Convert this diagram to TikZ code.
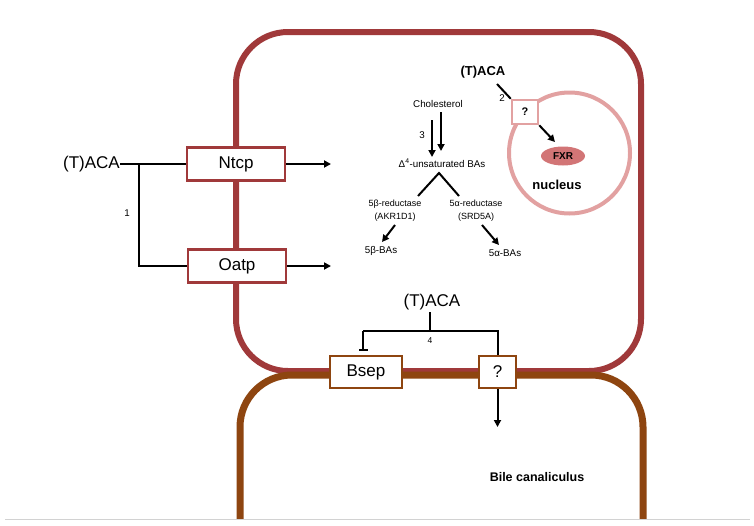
\documentclass[tikz,border=0pt]{standalone}
\usepackage{fontspec}
\setmainfont{Liberation Sans}
\usetikzlibrary{arrows.meta,shapes.geometric}
\definecolor{cellred}{HTML}{A0393A}
\definecolor{cellbrown}{HTML}{8E4510}
\definecolor{nucpink}{HTML}{E2A1A1}
\definecolor{fxrfill}{HTML}{D27576}
\begin{document}
\begin{tikzpicture}[x=1pt,y=-1pt,
  tbox/.style={draw=cellred,line width=2.5pt,fill=white,minimum width=98pt,minimum height=33pt,inner sep=0pt,font=\fontsize{17}{17}\selectfont},
  bbox/.style={draw=cellbrown,line width=2.5pt,fill=white,minimum height=32pt,inner sep=0pt,font=\fontsize{17}{17}\selectfont},
  lbl/.style={font=\fontsize{9.8}{11}\selectfont,inner sep=0pt,align=center},
  arr/.style={line width=2pt,-{Triangle[length=7pt,width=7pt]}},
  ln/.style={line width=2pt},
]
\useasboundingbox (0,0) rectangle (754,525);
% cells
\draw[cellred,line width=6pt,rounded corners=52pt] (236,32) rectangle (641,371);
\draw[cellbrown,line width=7pt,rounded corners=52pt] (240,519) -- (240,375) -- (643,375) -- (643,519);
\draw[gray!35,line width=1.5pt] (5,519.5) -- (750,519.5);

% left transporters
\node[tbox] (ntcp) at (236,164) {Ntcp};
\node[tbox] (oatp) at (237,266) {Oatp};
\node[anchor=east,inner sep=0pt,font=\fontsize{17}{17}\selectfont] (taca1) at (120,164) {(T)ACA};
\coordinate (br1) at (139,164);
\coordinate (out1) at (331,164);
\coordinate (out2) at (331,266);
\draw[ln] (taca1.east) -- (ntcp.west);
\draw[ln] (br1) |- (oatp.west);
\draw[arr] (ntcp.east) -- (out1);
\draw[arr] (oatp.east) -- (out2);
\node[lbl] (l1) at (127,213) {1};

% cholesterol pathway
\node[lbl] (chol) at (438,104) {Cholesterol};
\node[lbl] (delta) at (442,163) {Δ\textsuperscript{4}-unsaturated BAs};
\coordinate (a1s) at (432,120);
\coordinate (a1e) at (432,157);
\coordinate (a2s) at (441,112);
\coordinate (a2e) at (441,151);
\draw[arr] (a1s) -- (a1e);
\draw[arr] (a2s) -- (a2e);
\node[lbl] (l3) at (422,135) {3};
\coordinate (apex) at (439,173);
\coordinate (legl) at (418,196);
\coordinate (legr) at (459,196);
\draw[line width=2pt] (legl) -- (apex) -- (legr);
\node[lbl,font=\fontsize{9}{11}\selectfont] (red5b) at (395,211) {5β-reductase\\[2pt](AKR1D1)};
\node[lbl,font=\fontsize{9}{11}\selectfont] (red5a) at (476,211) {5α-reductase\\[2pt](SRD5A)};
\node[lbl] (ba5b) at (381,251) {5β-BAs};
\node[lbl] (ba5a) at (505,253) {5α-BAs};
\coordinate (b1s) at (395,225);
\coordinate (b1e) at (382,242);
\coordinate (b2s) at (482,225);
\coordinate (b2e) at (499,245);
\draw[arr] (b1s) -- (b1e);
\draw[arr] (b2s) -- (b2e);

% nucleus
\draw[nucpink,line width=4pt] (569.5,153) circle (60.5pt);
\node[draw=nucpink,line width=2.5pt,fill=white,minimum width=26pt,minimum height=24pt,inner sep=0pt,font=\bfseries\fontsize{11}{11}\selectfont] (q1) at (525,112) {?};
\node[ellipse,fill=fxrfill,minimum width=44pt,minimum height=19pt,inner sep=0pt,font=\bfseries\fontsize{10}{10}\selectfont] (fxr) at (563,156) {FXR};
\node[inner sep=0pt,font=\bfseries\fontsize{13}{13}\selectfont] (nuc) at (557,185) {nucleus};
\node[inner sep=0pt,font=\bfseries\fontsize{13}{13}\selectfont] (taca2) at (483,72) {(T)ACA};
\coordinate (c2) at (497,84);
\coordinate (fxrtip) at (555,142);
\draw[ln] (c2) -- (q1.north west);
\node[lbl] (l2) at (502,98) {2};
\draw[arr] (q1.south east) -- (fxrtip);

% canalicular transporters
\node[bbox,minimum width=72pt] (bsep) at (366,372) {Bsep};
\node[bbox,minimum width=37pt] (q2) at (497.5,372) {?};
\node[inner sep=0pt,font=\fontsize{17}{17}\selectfont] (taca3) at (432,302) {(T)ACA};
\coordinate (j4) at (430,331);
\coordinate (j4l) at (363,331);
\coordinate (j4r) at (497.5,331);
\coordinate (tee) at (363,351);
\coordinate (top4) at (430,312);
\draw[ln] (top4) -- (j4);
\draw[ln] (j4l) -- (j4r) -- (q2.north);
\draw[ln,-{Bar[width=9pt]}] (j4l) -- (tee);
\node[lbl,font=\fontsize{8.5}{8.5}\selectfont] (l4) at (430,341) {4};
\coordinate (out3) at (497.5,427);
\draw[arr] (q2.south) -- (out3);
\node[inner sep=0pt,font=\bfseries\fontsize{12.5}{12.5}\selectfont] (bile) at (537,477) {Bile canaliculus};
\end{tikzpicture}
\end{document}
